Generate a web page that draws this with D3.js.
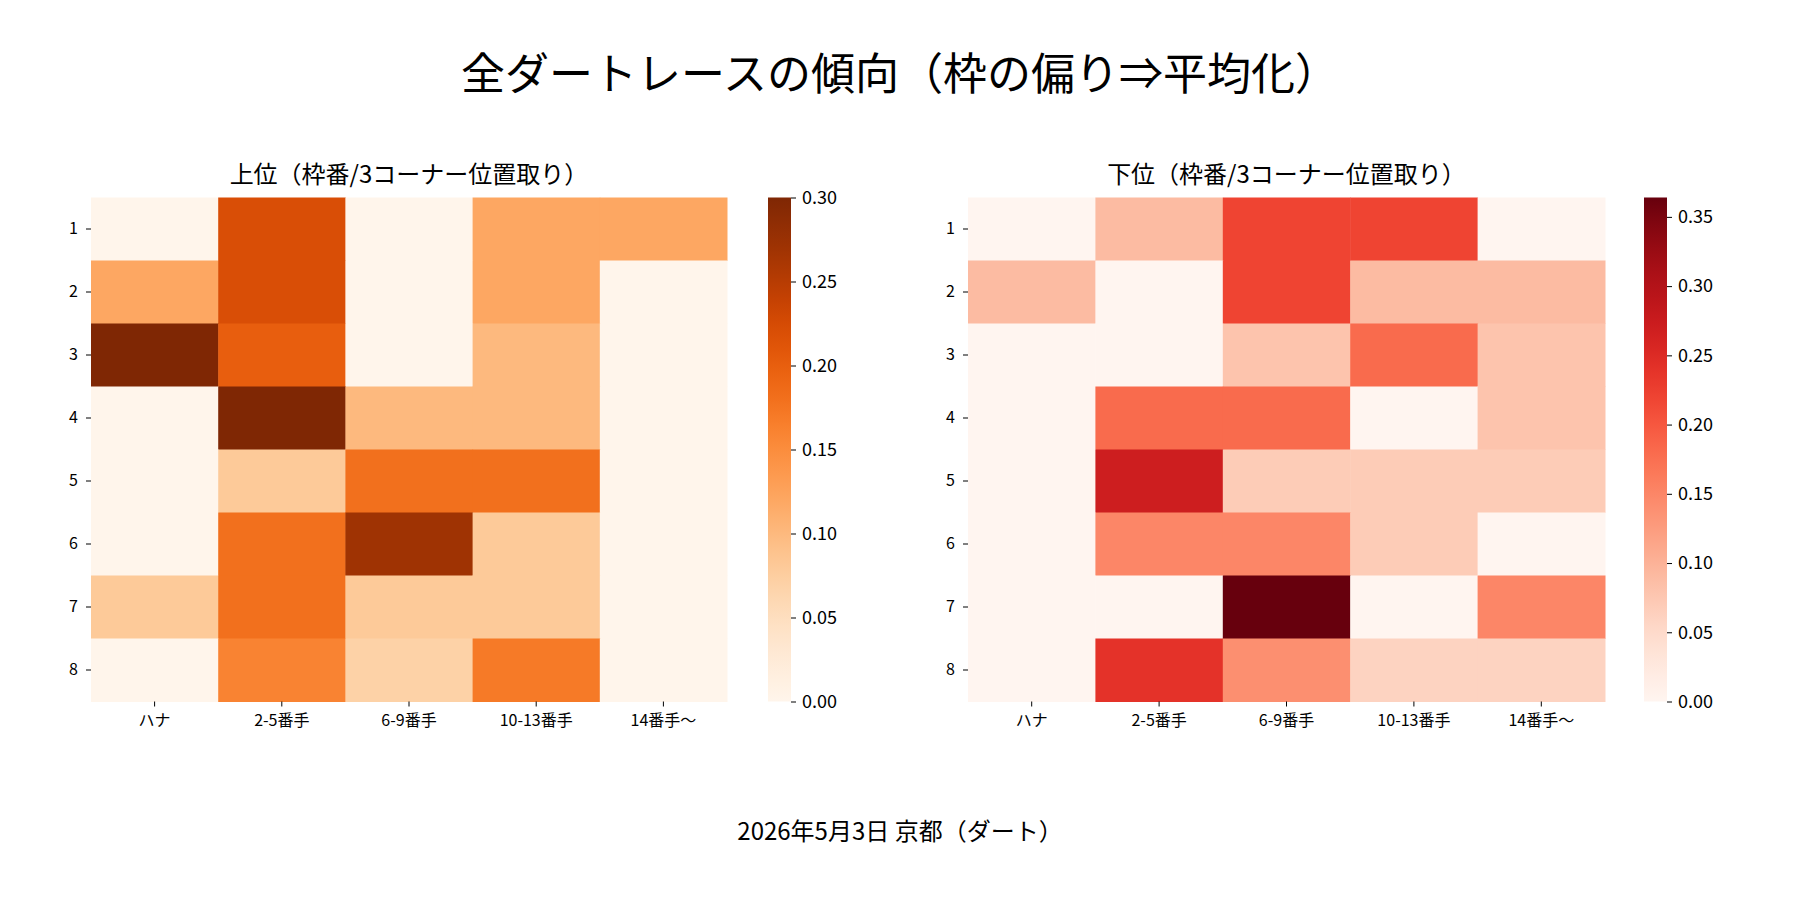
<!DOCTYPE html>
<html><head><meta charset="utf-8">
<script src="https://cdn.jsdelivr.net/npm/d3@7"></script>
<style>body{margin:0;background:#fff}text{font-family:"Noto Sans CJK JP","DejaVu Sans",sans-serif}</style>
</head><body><svg id="c" width="1800" height="900"></svg>
<script>
const cols = ["ハナ","2-5番手","6-9番手","10-13番手","14番手〜"];
const rows = ["1","2","3","4","5","6","7","8"];
const upper = [
 [0,0.22,0,0.12,0.12],
 [0.12,0.22,0,0.12,0],
 [0.30,0.20,0,0.10,0],
 [0,0.30,0.10,0.10,0],
 [0,0.08,0.18,0.18,0],
 [0,0.18,0.27,0.08,0],
 [0.08,0.18,0.08,0.08,0],
 [0,0.16,0.07,0.17,0]];
const lower = [
 [0,0.09,0.22,0.22,0],
 [0.09,0,0.22,0.09,0.09],
 [0,0,0.08,0.18,0.08],
 [0,0.18,0.18,0,0.08],
 [0,0.27,0.07,0.07,0.07],
 [0,0.15,0.15,0.07,0],
 [0,0,0.364,0,0.15],
 [0,0.24,0.14,0.06,0.06]];
const upperTicks=[0,0.05,0.10,0.15,0.20,0.25,0.30];
const lowerTicks=[0,0.05,0.10,0.15,0.20,0.25,0.30,0.35];
const svg=d3.select("#c");
svg.append("text").attr("x",900).attr("y",90).attr("text-anchor","middle").attr("font-size",44).text("全ダートレースの傾向（枠の偏り⇒平均化）");
svg.append("text").attr("x",900).attr("y",840).attr("text-anchor","middle").attr("font-size",24).text("2026年5月3日 京都（ダート）");
function panel(data,title,interp,ticks,x0,x1,cb0){
  const y0=197.5,y1=701.5;
  const vmax=d3.max(data.flat());
  const color=d3.scaleSequential(interp).domain([0,vmax]);
  const x=d3.scaleBand().domain(cols).range([x0,x1]);
  const y=d3.scaleBand().domain(rows).range([y0,y1]);
  const g=svg.append("g");
  data.forEach((r,i)=>r.forEach((v,j)=>{
    g.append("rect").attr("x",x(cols[j])).attr("y",y(rows[i])).attr("width",x.bandwidth()+0.5).attr("height",y.bandwidth()+0.5).attr("fill",color(v));
  }));
  const ax=g.append("g").attr("transform",`translate(0,${y1})`).call(d3.axisBottom(x).tickSize(5).tickPadding(8));
  const ay=g.append("g").attr("transform",`translate(${x0},0)`).call(d3.axisLeft(y).tickSize(5).tickPadding(8));
  [ax,ay].forEach(a=>{a.select(".domain").remove();a.selectAll("text").attr("font-size",16).attr("fill","#000");a.selectAll("line").attr("stroke","#000");});
  svg.append("text").attr("x",(x0+x1)/2).attr("y",183).attr("text-anchor","middle").attr("font-size",24).text(title);
  // colorbar
  const cw=23;
  const cs=d3.scaleLinear().domain([0,vmax]).range([y1,y0]);
  const id="grad"+cb0;
  const grad=svg.append("defs").append("linearGradient").attr("id",id).attr("x1",0).attr("y1",1).attr("x2",0).attr("y2",0);
  d3.range(0,1.0001,0.05).forEach(t=>grad.append("stop").attr("offset",t).attr("stop-color",interp(t)));
  svg.append("rect").attr("x",cb0).attr("y",y0).attr("width",cw).attr("height",y1-y0).attr("fill",`url(#${id})`);
  const ac=svg.append("g").attr("transform",`translate(${cb0+cw},0)`).call(d3.axisRight(cs).tickValues(ticks).tickFormat(d3.format(".2f")).tickSize(5).tickPadding(6));
  ac.select(".domain").remove();ac.selectAll("text").attr("font-size",18).attr("fill","#000");ac.selectAll("line").attr("stroke","#000");
}
panel(upper,"上位（枠番/3コーナー位置取り）",d3.interpolateOranges,upperTicks,91,727,768);
panel(lower,"下位（枠番/3コーナー位置取り）",d3.interpolateReds,lowerTicks,968,1605,1644);
</script></body></html>
